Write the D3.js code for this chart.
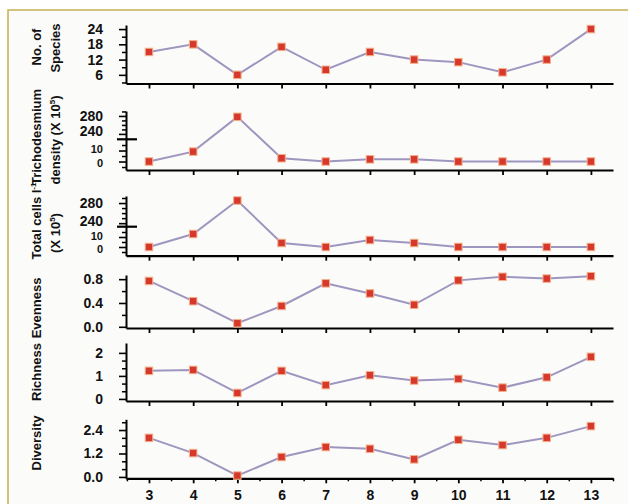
<!DOCTYPE html>
<html>
<head>
<meta charset="utf-8">
<script src="https://cdn.jsdelivr.net/npm/d3@7"></script>
<style>
  html, body { margin: 0; padding: 0; background: #ffffff; }
  svg { display: block; font-family: "Liberation Sans", Arial, sans-serif; font-weight: bold; }
</style>
</head>
<body>
<svg id="chart" width="628" height="504"></svg>
<script>
// Sampling months (x axis)
const months = [3, 4, 5, 6, 7, 8, 9, 10, 11, 12, 13];

// Series, one value per month
const species       = [15, 18, 6, 17, 8, 15, 12, 11, 7, 12, 24];
const trichodesmium = [0, 9, 278, 3, 0, 2, 2, 0, 0, 0, 0];
const totalCells    = [0, 13, 285, 4, 0, 7, 4, 0, 0, 0, 0];
const evenness      = [0.77, 0.43, 0.06, 0.35, 0.73, 0.56, 0.37, 0.78, 0.84, 0.81, 0.85];
const richness      = [1.22, 1.26, 0.26, 1.22, 0.60, 1.03, 0.80, 0.87, 0.49, 0.94, 1.83];
const diversity     = [2.00, 1.22, 0.07, 1.02, 1.53, 1.44, 0.90, 1.90, 1.63, 2.00, 2.60];

// Tick values (labelled and minor) for each y axis
const speciesTicks   = [6, 12, 18, 24];
const speciesMinor   = [3, 9, 15, 21];
const brokenTicks    = [0, 10, 240, 280];
const brokenMinor    = [-5, 5, 15, 250, 260, 270, 290];
const evennessTicks  = [0, 0.4, 0.8];
const evennessMinor  = [0.2, 0.6];
const richnessTicks  = [0, 1, 2];
const richnessMinor  = [1 / 3, 2 / 3, 4 / 3, 5 / 3];
const diversityTicks = [0, 1.2, 2.4];
const diversityMinor = [0.4, 0.8, 1.6, 2.0, 2.8];
const monthMinor     = [2.5, 3.5, 4.5, 5.5, 6.5, 7.5, 8.5, 9.5, 10.5, 11.5, 12.5, 13.5];

// Small vertical nudges for the crowded labels around an axis break
const breakLabelShift = { 0: 1.5, 10: -1.5, 240: -2.5, 280: 0 };

const svg = d3.select("#chart");

// Framed background
svg.append("rect")
  .attr("x", 8).attr("y", 10)
  .attr("width", 660).attr("height", 540)
  .attr("fill", "#fbfbfa")
  .attr("stroke", "#c9b55e")
  .attr("stroke-width", 1.6);

const x = d3.scaleLinear().domain([2.48, 13.5]).range([126, 613]);

const panels = [
  { values: species,
    y: d3.scaleLinear().domain([2.6, 25.6]).range([83.5, 25]),
    ticks: speciesTicks, minor: speciesMinor, fmt: d3.format("d"),
    title: [{ text: "No. of", x: 41, y: 47 }, { text: "Species", x: 59.5, y: 48 }] },
  { values: trichodesmium,
    y: d3.scaleLinear().domain([-7.7, 20.2, 228, 291]).range([170, 139.3, 139.3, 111]),
    ticks: brokenTicks, minor: brokenMinor, fmt: d3.format("d"), breakAt: 139.3,
    title: [{ text: "Trichodesmium", x: 41, y: 137 },
            { text: "density (X 10", sup: "5", tail: ")", x: 59.5, y: 140 }] },
  { values: totalCells,
    y: d3.scaleLinear().domain([-8.7, 20.3, 233, 294]).range([255.7, 226.7, 226.7, 196]),
    ticks: brokenTicks, minor: brokenMinor, fmt: d3.format("d"), breakAt: 226.7,
    title: [{ text: "Total cells l", sup: "-1", tail: "", x: 41, y: 221 },
            { text: "(X 10", sup: "5", tail: ")", x: 59.5, y: 233 }] },
  { values: evenness,
    y: d3.scaleLinear().domain([-0.02, 0.87]).range([328, 275]),
    ticks: evennessTicks, minor: evennessMinor, fmt: d3.format(".1f"),
    title: [{ text: "Evenness", x: 41, y: 308 }] },
  { values: richness,
    y: d3.scaleLinear().domain([-0.09, 2.43]).range([401, 343]),
    ticks: richnessTicks, minor: richnessMinor, fmt: d3.format("d"),
    title: [{ text: "Richness", x: 41, y: 372 }] },
  { values: diversity,
    y: d3.scaleLinear().domain([-0.07, 2.95]).range([478.3, 419.3]),
    ticks: diversityTicks, minor: diversityMinor, fmt: d3.format(".1f"),
    title: [{ text: "Diversity", x: 41, y: 443 }], xLabels: true }
];

panels.forEach(p => {
  const g = svg.append("g");
  const base = p.y.range()[0];
  const broken = p.breakAt !== undefined;

  // y axis: labelled ticks (the 0 / 10 pair on broken axes is set smaller)
  g.append("g")
    .attr("transform", "translate(126,0)")
    .call(d3.axisLeft(p.y).tickValues(p.ticks).tickFormat(p.fmt)
      .tickSize(7).tickSizeOuter(0).tickPadding(16))
    .call(a => a.select(".domain").attr("stroke-width", 2))
    .call(a => a.selectAll(".tick line").attr("stroke-width", 1.6))
    .call(a => a.selectAll("text")
      .attr("font-size", d => (broken && d < 100) ? 11 : 14)
      .attr("y", d => broken ? breakLabelShift[d] : 0)
      .attr("font-weight", "bold").attr("fill", "#111"));

  // y axis: minor ticks
  g.append("g")
    .attr("transform", "translate(126,0)")
    .call(d3.axisLeft(p.y).tickValues(p.minor).tickFormat("").tickSize(4).tickSizeOuter(0))
    .call(a => a.select(".domain").remove())
    .call(a => a.selectAll(".tick line").attr("stroke-width", 1.5));

  // break marker across the y axis
  if (broken) {
    g.append("line")
      .attr("x1", 117).attr("x2", 137)
      .attr("y1", p.breakAt).attr("y2", p.breakAt)
      .attr("stroke", "#000").attr("stroke-width", 2.2);
  }

  // x axis
  g.append("g")
    .attr("transform", `translate(0,${base})`)
    .call(d3.axisBottom(x).tickValues(months)
      .tickFormat(p.xLabels ? d3.format("d") : "")
      .tickSize(5).tickSizeOuter(0).tickPadding(7))
    .call(a => a.select(".domain").attr("stroke-width", 2.2))
    .call(a => a.selectAll(".tick line").attr("stroke-width", 1.8))
    .call(a => a.selectAll("text").attr("font-size", 14).attr("font-weight", "bold").attr("fill", "#111"));
  if (p.xLabels) {
    g.append("g")
      .attr("transform", `translate(0,${base})`)
      .call(d3.axisBottom(x).tickValues(monthMinor).tickFormat("").tickSize(3).tickSizeOuter(0))
      .call(a => a.select(".domain").remove())
      .call(a => a.selectAll(".tick line").attr("stroke-width", 1.5));
  }

  // series line
  const pts = months.map((m, i) => [m, p.values[i]]);
  g.append("path")
    .datum(pts)
    .attr("fill", "none")
    .attr("stroke", "#9f96bf")
    .attr("stroke-width", 2)
    .attr("d", d3.line().x(d => x(d[0])).y(d => p.y(d[1])));

  // square markers
  g.selectAll("rect.pt")
    .data(pts)
    .join("rect")
    .attr("class", "pt")
    .attr("x", d => x(d[0]) - 3.75)
    .attr("y", d => p.y(d[1]) - 3.75)
    .attr("width", 7.5).attr("height", 7.5)
    .attr("fill", "#d6392b")
    .attr("stroke", "#f3b08c")
    .attr("stroke-width", 1);

  // rotated axis titles
  p.title.forEach(t => {
    const txt = g.append("text")
      .attr("transform", `translate(${t.x},${t.y}) rotate(-90)`)
      .attr("text-anchor", "middle")
      .attr("font-size", 13)
      .attr("font-weight", "bold")
      .attr("fill", "#111");
    txt.append("tspan").text(t.text);
    if (t.sup) {
      txt.append("tspan").attr("font-size", 8).attr("dy", -5).text(t.sup);
      if (t.tail) txt.append("tspan").attr("font-size", 13).attr("dy", 5).text(t.tail);
    }
  });
});
</script>
</body>
</html>
